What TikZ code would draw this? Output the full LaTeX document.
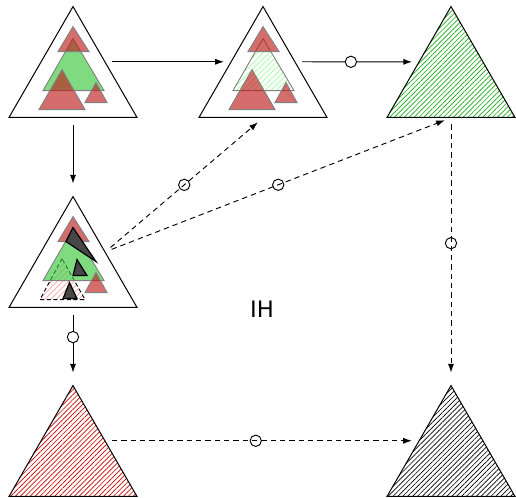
\documentclass[tikz,border=0pt]{standalone}
\usepackage{fontspec}
\setsansfont{DejaVu Sans}
\usetikzlibrary{shapes.geometric,arrows.meta,patterns.meta}

\definecolor{trired}{RGB}{190,30,30}
\definecolor{trigreen}{RGB}{60,200,60}
\definecolor{hatchgreen}{RGB}{20,170,20}
\definecolor{hatchred}{RGB}{200,0,0}

\tikzset{
  big/.style={regular polygon, regular polygon sides=3, minimum size=110.9pt,
    inner sep=0pt, draw, line width=0.75pt},
  hatch/.style={pattern={Lines[angle=45,distance=2.6pt,line width=0.5pt]}, pattern color=#1},
  redtri/.style={fill=trired, fill opacity=0.65, draw=gray, line width=0.7pt},
  greentri/.style={fill=trigreen, fill opacity=0.65, draw=gray, line width=0.7pt},
  ghosttri/.style={draw=gray, line width=0.7pt,
    pattern={Lines[angle=45,distance=3pt,line width=0.4pt]}, pattern color=#1},
  darktri/.style={fill=black!72, draw=black, line width=0.9pt},
  conn/.style={->, line width=0.7pt, shorten <=5pt, shorten >=5pt},
  longdash/.style={dash pattern=on 4pt off 3pt},
  ring/.style={circle, draw, inner sep=0pt, minimum size=8.5pt, line width=0.7pt, solid},
}

\begin{document}
\begin{tikzpicture}[x=0.75pt, y=-0.75pt, >={Latex[length=6.5pt,width=4.5pt]}]
\useasboundingbox (0,0) rectangle (516,497);

% the six big triangles
\node[big] (tl) at (73,80.5) {};
\node[big] (tm) at (263,80.5) {};
\node[big, hatch=hatchgreen] (tr) at (451,80.5) {};
\node[big] (ml) at (73,270.5) {};
\node[big, hatch=hatchred] (bl) at (73,459.5) {};
\node[big, hatch=black] (br) at (451,459.5) {};

% inside tl
\begin{scope}[shift={(tl.corner 1)}]
  \draw[greentri] (0,33) -- (-30,85) -- (31,85) -- cycle;
  \draw[redtri] (0,21) -- (-15,46) -- (16,46) -- cycle;
  \draw[redtri] (-11,64) -- (-34,104) -- (12,104) -- cycle;
  \draw[redtri] (23,77) -- (12,97) -- (34,97) -- cycle;
\end{scope}

% inside tm
\begin{scope}[shift={(tm.corner 1)}]
  \draw[ghosttri=green!45] (0,33) -- (-30,85) -- (31,85) -- cycle;
  \draw[redtri] (0,21) -- (-15,46) -- (16,46) -- cycle;
  \draw[redtri] (-11,64) -- (-34,104) -- (12,104) -- cycle;
  \draw[redtri] (23,77) -- (12,97) -- (34,97) -- cycle;
\end{scope}

% inside ml
\begin{scope}[shift={(ml.corner 1)}]
  \draw[line width=0.7pt, densely dashed,
    pattern={Lines[angle=45,distance=3pt,line width=0.4pt]}, pattern color=red!45]
    (-11,63) -- (-33,104) -- (12,104) -- cycle;
  \draw[greentri] (0,33) -- (-30,85) -- (31,85) -- cycle;
  \draw[redtri] (0,21) -- (-15,46) -- (16,46) -- cycle;
  \draw[redtri] (23,77) -- (12,97) -- (34,97) -- cycle;
  \draw[darktri] (0,32) -- (-7,46) -- (23,66) -- cycle;
  \draw[darktri] (4,64) -- (0,80) -- (14,80) -- cycle;
  \draw[darktri] (-3.5,87) -- (-10,103) -- (4,103) -- cycle;
\end{scope}

\node[font=\sffamily\fontsize{17}{20}\selectfont] (ih) at (262,309) {IH};

% arrows
\draw[conn] (tl.side 3) -- (tm.side 1);
\draw[conn] (tm.side 3) -- node[ring, fill=white, pos=0.45] (c1) {} (tr.side 1);
\draw[conn, shorten >=9pt] (tl.side 2) -- (ml.corner 1);
\draw[conn, longdash] (ml.side 3) -- node[ring] (c2) {} (tm.side 2);
\draw[conn, longdash] (ml.side 3) -- node[ring] (c3) {} (tr.side 2);
\draw[conn, longdash, shorten >=9pt] (tr.side 2) -- node[ring, pos=0.47] (c4) {} (br.corner 1);
\draw[conn, shorten >=9pt] (ml.side 2) -- node[ring, fill=white, pos=0.38] (c5) {} (bl.corner 1);
\draw[conn, longdash] (bl.side 3) -- node[ring, pos=0.48] (c6) {} (br.side 1);
\end{tikzpicture}
\end{document}
